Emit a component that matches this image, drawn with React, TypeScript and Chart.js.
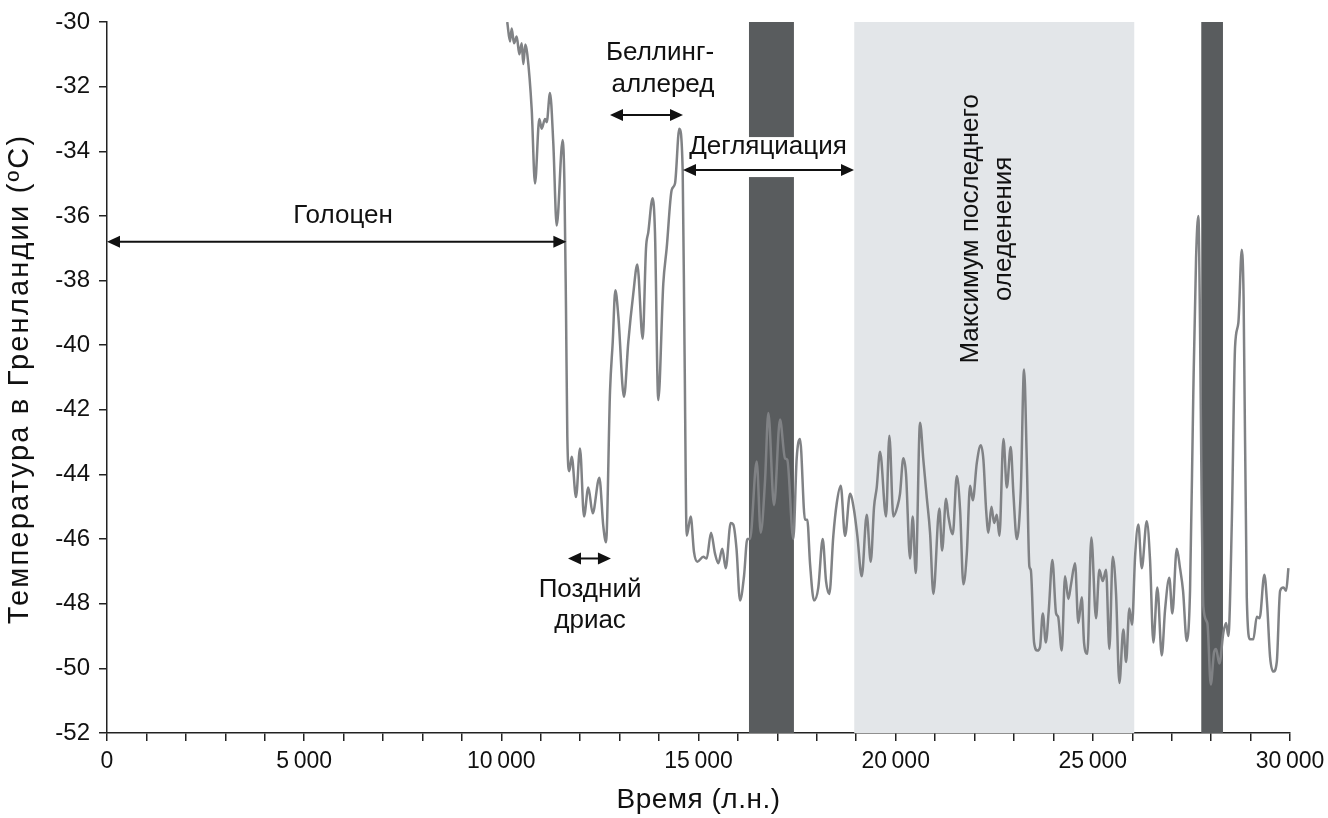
import React, { useEffect, useRef } from 'react';
import { Chart, registerables } from 'chart.js';

Chart.register(...registerables);

// ---- Data ----
const years: number[] = [
  10150, 10220, 10263, 10321, 10390, 10456, 10517, 10557, 10608, 10659,
  10770, 10854, 10963, 11024, 11108, 11151, 11234, 11318, 11404, 11555,
  11600, 11640, 11673, 11724, 11785, 11894, 11995, 12097, 12206, 12317,
  12485, 12586, 12655, 12757, 12825, 12891, 12967, 13111, 13220, 13347,
  13448, 13585, 13669, 13727, 13837, 13896, 13980, 14107, 14193, 14320,
  14404, 14513, 14599, 14645, 14701, 14802, 14886, 14970, 15122, 15208,
  15317, 15419, 15503, 15604, 15690, 15817, 15883, 15964, 16053, 16154,
  16238, 16306, 16476, 16578, 16687, 16771, 16915, 17067, 17194, 17252,
  17404, 17490, 17574, 17701, 17759, 17828, 17929, 18038, 18150, 18234,
  18318, 18419, 18505, 18607, 18716, 18843, 18944, 19028, 19140, 19266,
  19368, 19452, 19520, 19604, 19756, 19840, 19941, 20043, 20110, 20194,
  20263, 20364, 20433, 20509, 20618, 20702, 20788, 20872, 20956, 21108,
  21177, 21278, 21337, 21448, 21550, 21634, 21717, 21804, 21887, 21956,
  22057, 22159, 22225, 22294, 22352, 22428, 22497, 22565, 22631, 22733,
  22819, 22917, 22986, 23072, 23173, 23256, 23325, 23391, 23427, 23510,
  23594, 23660, 23731, 23807, 23883, 23974, 24068, 24119, 24211, 24295,
  24379, 24447, 24549, 24632, 24719, 24777, 24861, 24962, 25081, 25165,
  25251, 25335, 25419, 25505, 25589, 25673, 25774, 25843, 25926, 25995,
  26071, 26154, 26241, 26367, 26451, 26535, 26636, 26748, 26831, 26940,
  27016, 27128, 27211, 27288, 27381, 27465, 27549, 27618, 27676, 27719,
  27757, 27803, 27904, 27991, 28074, 28125, 28209, 28310, 28379, 28437,
  28524, 28607, 28691, 28777, 28823, 28904, 28988, 29071, 29158, 29229,
  29350, 29419, 29495, 29579, 29665, 29749, 29833, 29902, 29960,
];

const temps: number[] = [
  -30.0, -30.6, -30.2, -30.66, -30.45, -31.0, -30.66, -31.3, -30.7, -31.0,
  -32.7, -35.0, -33.0, -33.3, -33.0, -33.1, -32.2, -33.75, -36.3, -33.65,
  -35.0, -38.9, -42.8, -43.9, -43.45, -44.7, -43.2, -45.3, -44.4, -45.2,
  -44.1, -45.6, -46.1, -41.4, -39.9, -38.3, -39.1, -41.6, -39.9, -38.4,
  -37.5, -39.8, -37.0, -36.5, -35.45, -36.5, -41.7, -38.1, -37.0, -35.2,
  -35.0, -33.3, -34.6, -40.0, -45.9, -45.3, -46.4, -46.7, -46.55, -46.6,
  -45.8, -46.45, -46.75, -46.3, -46.9, -45.5, -45.55, -46.3, -47.9, -47.15,
  -46.0, -46.0, -43.6, -45.8, -44.2, -42.1, -44.95, -42.3, -43.5, -43.55,
  -46.0, -43.5, -42.9, -45.4, -45.4, -46.75, -47.9, -47.5, -46.0, -47.3,
  -47.7, -45.9, -44.9, -44.35, -45.9, -44.6, -45.1, -45.9, -47.15, -45.25,
  -46.7, -45.0, -44.4, -43.3, -45.3, -42.8, -45.3, -45.0, -44.6, -43.5,
  -44.0, -46.6, -45.3, -47.05, -42.4, -43.55, -44.7, -45.8, -47.7, -45.05,
  -46.35, -44.75, -45.3, -45.85, -44.05, -45.1, -47.4, -46.45, -44.35, -44.8,
  -43.65, -43.1, -43.55, -45.1, -45.8, -45.0, -45.5, -45.25, -45.9, -42.9,
  -44.4, -43.15, -44.6, -46.0, -44.5, -40.75, -43.55, -46.85, -46.95, -49.2,
  -49.45, -49.35, -48.3, -49.2, -48.2, -46.65, -48.3, -48.4, -49.45, -47.15,
  -47.85, -47.4, -46.75, -48.6, -47.8, -49.2, -49.55, -45.95, -48.45, -46.95,
  -47.3, -46.95, -49.4, -46.55, -47.7, -50.45, -48.8, -49.8, -48.15, -48.65,
  -46.55, -45.55, -46.9, -45.45, -46.65, -49.2, -47.5, -49.6, -48.2, -47.2,
  -48.3, -46.3, -46.9, -47.6, -49.15, -47.6, -41.4, -37.3, -36.0, -39.5,
  -44.5, -48.1, -48.6, -50.5, -49.5, -49.4, -49.85, -48.9, -48.6, -49.0,
  -45.5, -40.05, -39.3, -37.05, -38.5, -47.8, -49.1, -49.1, -48.4, -48.45,
  -47.1, -48.0, -49.65, -50.1, -49.8, -47.6, -47.5, -47.6, -46.9,
];

const yTicks: number[] = [-52, -50, -48, -46, -44, -42, -40, -38, -36, -34, -32, -30];
const xLabelYears: number[] = [0, 5000, 10000, 15000, 20000, 25000, 30000];

// Shaded periods (years)
const darkBands: [number, number][] = [[16280, 17420], [27750, 28300]];
const lightBands: [number, number][] = [[18950, 26050]];

// Annotations (data coordinates)
const arrows = [
  { x1: 0, x2: 11650, y: -36.8 },
  { x1: 11690, x2: 12780, y: -46.6 },
  { x1: 12755, x2: 14607, y: -32.88 },
  { x1: 14607, x2: 18944, y: -34.58 },
];
const labels = [
  { text: 'Голоцен', x: 5985, y: -36.0, bg: false },
  { text: 'Поздний', x: 12250, y: -47.57, bg: false },
  { text: 'дриас', x: 12250, y: -48.53, bg: false },
  { text: 'Беллинг-', x: 14025, y: -30.96, bg: false },
  { text: 'аллеред', x: 14100, y: -31.95, bg: false },
  { text: 'Дегляциация', x: 16763, y: -33.87, bg: true },
];
const rotatedLabels = [
  { text: 'Максимум последнего', x: 21900, y: -36.4 },
  { text: 'оледенения', x: 22750, y: -36.4 },
];
const yTitle = 'Температура в Гренландии (ºC)';
const xTitle = 'Время (л.н.)';

const FONT = '"Liberation Sans", Arial, sans-serif';

function fmtYear(v: number): string {
  return String(v).replace(/\B(?=(\d{3})+(?!\d))/g, '\u2009');
}

function drawArrow(ctx: CanvasRenderingContext2D, x1: number, x2: number, y: number) {
  const head = 13;
  const hw = 6;
  ctx.save();
  ctx.strokeStyle = '#111';
  ctx.fillStyle = '#111';
  ctx.lineWidth = 2;
  ctx.beginPath();
  ctx.moveTo(x1 + head - 2, y);
  ctx.lineTo(x2 - head + 2, y);
  ctx.stroke();
  ctx.beginPath();
  ctx.moveTo(x1, y);
  ctx.lineTo(x1 + head, y - hw);
  ctx.lineTo(x1 + head, y + hw);
  ctx.closePath();
  ctx.fill();
  ctx.beginPath();
  ctx.moveTo(x2, y);
  ctx.lineTo(x2 - head, y - hw);
  ctx.lineTo(x2 - head, y + hw);
  ctx.closePath();
  ctx.fill();
  ctx.restore();
}

const bandsPlugin = {
  id: 'bands',
  beforeDatasetsDraw(chart: any) {
    const { ctx, chartArea, scales } = chart;
    const xs = scales.x;
    ctx.save();
    ctx.fillStyle = '#e3e6e9';
    lightBands.forEach(([a, b]) => {
      const p1 = xs.getPixelForValue(a);
      const p2 = xs.getPixelForValue(b);
      ctx.fillRect(p1, chartArea.top, p2 - p1, chartArea.bottom - chartArea.top);
    });
    ctx.fillStyle = '#595c5e';
    darkBands.forEach(([a, b]) => {
      const p1 = xs.getPixelForValue(a);
      const p2 = xs.getPixelForValue(b);
      ctx.fillRect(p1, chartArea.top, p2 - p1, chartArea.bottom - chartArea.top);
    });
    ctx.restore();
  },
  afterDatasetsDraw(chart: any) {
    const { ctx, scales, chartArea } = chart;
    const xs = scales.x;
    const ys = scales.y;
    ctx.save();
    ctx.font = `26px ${FONT}`;
    ctx.textAlign = 'center';
    ctx.textBaseline = 'middle';
    labels.forEach((l) => {
      const px = xs.getPixelForValue(l.x);
      const py = ys.getPixelForValue(l.y);
      if (l.bg) {
        const w = ctx.measureText(l.text).width;
        ctx.fillStyle = '#ffffff';
        ctx.fillRect(px - w / 2 - 4, py - 10, w + 8, 40);
      }
    });
    ctx.fillStyle = '#111';
    labels.forEach((l) => {
      ctx.fillText(l.text, xs.getPixelForValue(l.x), ys.getPixelForValue(l.y));
    });
    rotatedLabels.forEach((l) => {
      ctx.save();
      ctx.translate(xs.getPixelForValue(l.x), ys.getPixelForValue(l.y));
      ctx.rotate(-Math.PI / 2);
      ctx.fillText(l.text, 0, 0);
      ctx.restore();
    });
    arrows.forEach((a) => {
      drawArrow(ctx, xs.getPixelForValue(a.x1), xs.getPixelForValue(a.x2), ys.getPixelForValue(a.y));
    });
    // Axis titles
    ctx.save();
    ctx.font = `29px ${FONT}`;
    (ctx as any).letterSpacing = '2.2px';
    ctx.translate(20, 379);
    ctx.rotate(-Math.PI / 2);
    ctx.fillText(yTitle, 0, 0);
    ctx.restore();
    ctx.save();
    ctx.font = `28px ${FONT}`;
    (ctx as any).letterSpacing = '0.5px';
    ctx.fillText(xTitle, (chartArea.left + chartArea.right) / 2, 800);
    ctx.restore();
    ctx.restore();
  },
};

export default function App() {
  const ref = useRef<HTMLCanvasElement | null>(null);
  useEffect(() => {
    if (!ref.current) return;
    const points = years.map((x, i) => ({ x, y: temps[i] }));
    const chart = new Chart(ref.current, {
      type: 'line',
      data: {
        datasets: [
          {
            data: points,
            borderColor: '#808285',
            borderWidth: 2.5,
            pointRadius: 0,
            cubicInterpolationMode: 'monotone',
            fill: false,
          },
        ],
      },
      options: {
        animation: false,
        responsive: false,
        layout: { padding: { top: 22, right: 38, left: 0, bottom: 0 } },
        plugins: { legend: { display: false }, tooltip: { enabled: false } },
        scales: {
          x: {
            type: 'linear',
            min: 0,
            max: 30000,
            afterFit: (s: any) => { s.height = 85; s.paddingLeft = 0; s.paddingRight = 0; },
            afterBuildTicks: (s: any) => {
              const t = [];
              for (let v = 0; v <= 30000; v += 1000) t.push({ value: v });
              s.ticks = t;
            },
            ticks: {
              autoSkip: false,
              maxRotation: 0,
              color: '#111',
              padding: 7,
              font: { family: FONT, size: 23 },
              callback: (v: any) => (xLabelYears.includes(Number(v)) ? fmtYear(Number(v)) : ''),
            },
            grid: { drawOnChartArea: false, color: '#222', tickLength: 8, lineWidth: 1.5 },
            border: { color: '#222', width: 1.5 },
            title: { display: false },
          },
          y: {
            type: 'linear',
            min: -52,
            max: -30,
            afterFit: (s: any) => { s.width = 107; s.paddingTop = 0; s.paddingBottom = 0; },
            afterBuildTicks: (s: any) => { s.ticks = yTicks.map((v) => ({ value: v })); },
            ticks: {
              color: '#111',
              padding: 9,
              font: { family: FONT, size: 24 },
              callback: (v: any) => String(v),
            },
            grid: { drawOnChartArea: false, color: '#222', tickLength: 8, lineWidth: 1.5 },
            border: { color: '#222', width: 1.5 },
            title: { display: false },
          },
        },
      },
      plugins: [bandsPlugin],
    });
    return () => chart.destroy();
  }, []);
  return (
    <div style={{ position: 'fixed', left: 0, top: 0, width: 1328, height: 818, background: '#fff' }}>
      <canvas ref={ref} width={1328} height={818} />
    </div>
  );
}
